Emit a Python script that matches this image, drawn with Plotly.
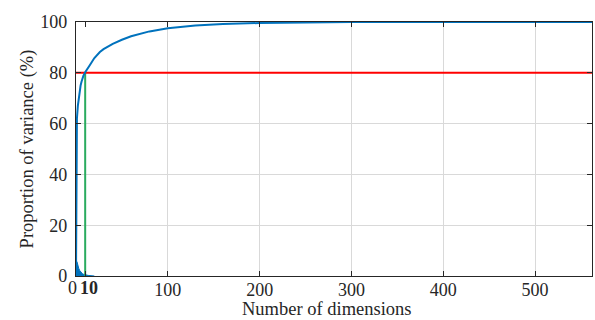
import plotly.graph_objects as go

# Cumulative proportion of variance (%) by number of dimensions
cum_dims = [0, 1, 2, 3, 4, 5, 6, 7, 8, 10, 12, 15, 20, 26, 30, 40, 50, 60, 80, 100,
            130, 160, 200, 250, 300, 400, 500, 562]
cum_var = [0, 62, 67, 70.5, 73, 75, 76.5, 77.8, 78.8, 80.2, 81.5, 83, 85.8, 88.2, 89.3,
           91.4, 93, 94.4, 96.3, 97.5, 98.6, 99.2, 99.6, 99.85, 100, 100, 100, 100]

# Individual proportion of variance (%) per dimension
ind_dims = [1, 2, 3, 4, 5, 6, 7, 8, 9, 10, 11, 12, 13, 14, 15, 16, 18, 20]
ind_var = [5.7, 4.0, 3.0, 2.2, 1.6, 1.2, 0.9, 0.7, 0.55, 0.45, 0.35, 0.3, 0.25, 0.2,
           0.15, 0.1, 0.05, 0.0]

threshold = 80
chosen_dim = 10
x_max = 562

x_tickvals = [0, 10, 100, 200, 300, 400, 500]
x_ticktext = ["", "", "100", "200", "300", "400", "500"]
x_gridvals = [100, 200, 300, 400, 500]
y_tickvals = [0, 20, 40, 60, 80, 100]
low_labels = ["0", "<b>10</b>"]
low_label_pos = [0, 10]

BLUE = "#0072BD"
RED = "#FF0000"
GREEN = "#2aab5f"
AX = "#262626"
FONT = "Liberation Serif"

fig = go.Figure()
fig.add_trace(go.Scatter(x=ind_dims, y=ind_var, mode="lines", fill="tozeroy",
                         line=dict(color=BLUE, width=1), fillcolor=BLUE,
                         showlegend=False, hoverinfo="skip"))
fig.add_trace(go.Scatter(x=[chosen_dim, chosen_dim], y=[0, threshold], mode="lines",
                         line=dict(color=GREEN, width=2), showlegend=False))
fig.add_trace(go.Scatter(x=[0, x_max], y=[threshold, threshold], mode="lines",
                         line=dict(color=RED, width=2), showlegend=False))
fig.add_trace(go.Scatter(x=cum_dims, y=cum_var, mode="lines",
                         line=dict(color=BLUE, width=2), showlegend=False))

fig.update_layout(
    width=595, height=320,
    margin=dict(l=76, r=3, t=22, b=44),
    paper_bgcolor="white", plot_bgcolor="white",
    font=dict(family=FONT, size=18, color=AX),
)
fig.update_xaxes(
    range=[0, x_max], tickvals=x_tickvals, ticktext=x_ticktext, tickangle=0,
    showgrid=False, zeroline=False, automargin=False,
    ticks="inside", ticklen=5, tickcolor=AX, tickwidth=1,
    showline=True, linecolor=AX, linewidth=1.2, mirror="ticks",
    minor=dict(tickvals=x_gridvals, showgrid=True, gridcolor="#d9d9d9", gridwidth=1,
               ticks=""),
    tickfont=dict(size=18), ticklabelstandoff=-3,
)
fig.update_yaxes(
    range=[0, 100], tickvals=y_tickvals, automargin=False,
    showgrid=True, gridcolor="#d9d9d9", gridwidth=1, zeroline=False,
    ticks="inside", ticklen=5, tickcolor=AX, tickwidth=1,
    showline=True, linecolor=AX, linewidth=1.2, mirror="ticks",
    title=dict(text="Proportion of variance (%)", standoff=1, font=dict(size=18.5)),
    tickfont=dict(size=18), ticklabelstandoff=4,
)

# low-end tick labels, nudged apart as in the original
for txt, pos, shift in zip(low_labels, low_label_pos, [-4, 4]):
    fig.add_annotation(text=txt, x=pos, xref="x", y=0, yref="paper",
                       yshift=-12, xshift=shift, showarrow=False,
                       xanchor="center", yanchor="middle",
                       font=dict(size=18, color=AX, family=FONT))

fig.add_annotation(text="Number of dimensions", x=0.486, xref="paper",
                   y=-0.13, yref="paper", showarrow=False,
                   xanchor="center", yanchor="middle",
                   font=dict(size=18.5, color=AX, family=FONT))

fig.write_html("out.html")
